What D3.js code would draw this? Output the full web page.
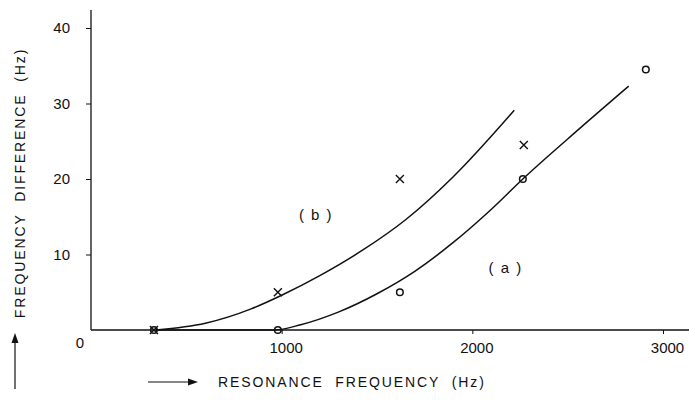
<!DOCTYPE html>
<html>
<head>
<meta charset="utf-8">
<script src="https://cdn.jsdelivr.net/npm/d3@7"></script>
<style>
  html, body { margin: 0; padding: 0; background: #fff; }
  svg text { font-family: "Liberation Sans", Arial, sans-serif; fill: #111; }
</style>
</head>
<body>
<script>
// ---- data ----
const xTicks = [1000, 2000, 3000];
const yTicks = [10, 20, 30, 40];
const xTickLabels = ["1000", "2000", "3000"];
const yTickLabels = ["10", "20", "30", "40"];

// measured points (b): crosses, (a): circles  [Hz, Hz]
const crossesB = [[330, 0], [980, 5], [1620, 20], [2270, 24.5]];
const circlesA = [[330, 0], [980, 0], [1620, 5], [2265, 20], [2910, 34.5]];

// hand-drawn fitted curves
const curveB = [[340, 0], [600, 0.9], [840, 2.8], [1000, 4.6], [1200, 7.2], [1420, 10.5], [1650, 14.6], [1900, 20.3], [2220, 29.1]];
const curveA = [[340, 0], [960, 0], [1100, 0.7], [1300, 2.4], [1500, 4.8], [1700, 7.8], [1900, 11.6], [2100, 16.0], [2265, 20], [2500, 25.3], [2820, 32.3]];

const labels = [{ t: "( b )", x: 1180, y: 15.3 }, { t: "( a )", x: 2175, y: 8.2 }];

const W = 689, H = 412;
const svg = d3.select("body").append("svg").attr("width", W).attr("height", H);

const x = d3.scaleLinear().domain([0, 3000]).range([91, 663]);
const y = d3.scaleLinear().domain([0, 40]).range([330, 28]);

const ink = "#111";
const FONT = "'Liberation Sans', Arial, sans-serif";

// axes lines
svg.append("line").attr("x1", x(0)).attr("x2", 689).attr("y1", y(0)).attr("y2", y(0))
  .attr("stroke", ink).attr("stroke-width", 1.3);
svg.append("line").attr("x1", x(0)).attr("x2", x(0)).attr("y1", y(0)).attr("y2", 10)
  .attr("stroke", ink).attr("stroke-width", 1.3);

// y axis ticks & labels
const yAxis = d3.axisLeft(y).tickValues(yTicks).tickSize(5)
  .tickFormat((d, i) => yTickLabels[i]).tickPadding(16);
const gy = svg.append("g").attr("transform", `translate(${x(0)},0)`).call(yAxis);
gy.select(".domain").remove();
gy.selectAll("line").attr("stroke", ink).attr("stroke-width", 1);
gy.selectAll("text").attr("font-size", 15).attr("fill", ink).attr("font-family", FONT);

// x axis ticks & labels
const xAxis = d3.axisBottom(x).tickValues(xTicks).tickSize(4)
  .tickFormat((d, i) => xTickLabels[i]).tickPadding(8);
const gx = svg.append("g").attr("transform", `translate(0,${y(0)})`).call(xAxis);
gx.select(".domain").remove();
gx.selectAll("line").attr("stroke", ink).attr("stroke-width", 1);
gx.selectAll("text").attr("font-size", 15).attr("fill", ink).attr("dx", 4).attr("font-family", FONT);

// origin label
svg.append("text").attr("x", 80).attr("y", 348).attr("text-anchor", "middle")
  .attr("font-size", 15).text("0");

// curves
const line = d3.line().x(d => x(d[0])).y(d => y(d[1])).curve(d3.curveMonotoneX);
svg.append("path").datum(curveB).attr("d", line).attr("fill", "none").attr("stroke", ink).attr("stroke-width", 1.5);
svg.append("path").datum(curveA).attr("d", line).attr("fill", "none").attr("stroke", ink).attr("stroke-width", 1.5);

// crosses
const cs = 4;
svg.append("g").selectAll("path").data(crossesB).join("path")
  .attr("d", d => {
    const cx = x(d[0]), cy = y(d[1]);
    return `M${cx - cs},${cy - cs}L${cx + cs},${cy + cs}M${cx - cs},${cy + cs}L${cx + cs},${cy - cs}`;
  })
  .attr("stroke", ink).attr("stroke-width", 1.4).attr("fill", "none");

// circles
svg.append("g").selectAll("circle").data(circlesA).join("circle")
  .attr("cx", d => x(d[0])).attr("cy", d => y(d[1])).attr("r", 3.3)
  .attr("fill", "none").attr("stroke", ink).attr("stroke-width", 1.5);

// curve labels
svg.append("g").selectAll("text").data(labels).join("text")
  .attr("x", d => x(d.x)).attr("y", d => y(d.y)).attr("dy", "0.35em")
  .attr("text-anchor", "middle").attr("font-size", 15).attr("letter-spacing", 1.5)
  .style("white-space", "pre").text(d => d.t);

// x-axis title with arrow
const xtY = 387;
svg.append("line").attr("x1", 148).attr("x2", 190).attr("y1", xtY - 5).attr("y2", xtY - 5)
  .attr("stroke", ink).attr("stroke-width", 1);
svg.append("path").attr("d", `M188,${xtY - 8.5}L198,${xtY - 5}L188,${xtY - 1.5}Z`).attr("fill", ink);
svg.append("text").attr("x", 218).attr("y", xtY).attr("font-size", 14).attr("letter-spacing", 1.9)
  .style("white-space", "pre").text("RESONANCE  FREQUENCY  (Hz)");

// y-axis title with arrow
svg.append("text").attr("transform", "translate(25,183) rotate(-90)")
  .attr("text-anchor", "middle").attr("font-size", 14).attr("letter-spacing", 1.9)
  .style("white-space", "pre").text("FREQUENCY  DIFFERENCE  (Hz)");
svg.append("line").attr("x1", 15).attr("x2", 15).attr("y1", 389).attr("y2", 340)
  .attr("stroke", ink).attr("stroke-width", 1.2);
svg.append("path").attr("d", "M11.5,343L15,333L18.5,343Z").attr("fill", ink);
</script>
</body>
</html>
